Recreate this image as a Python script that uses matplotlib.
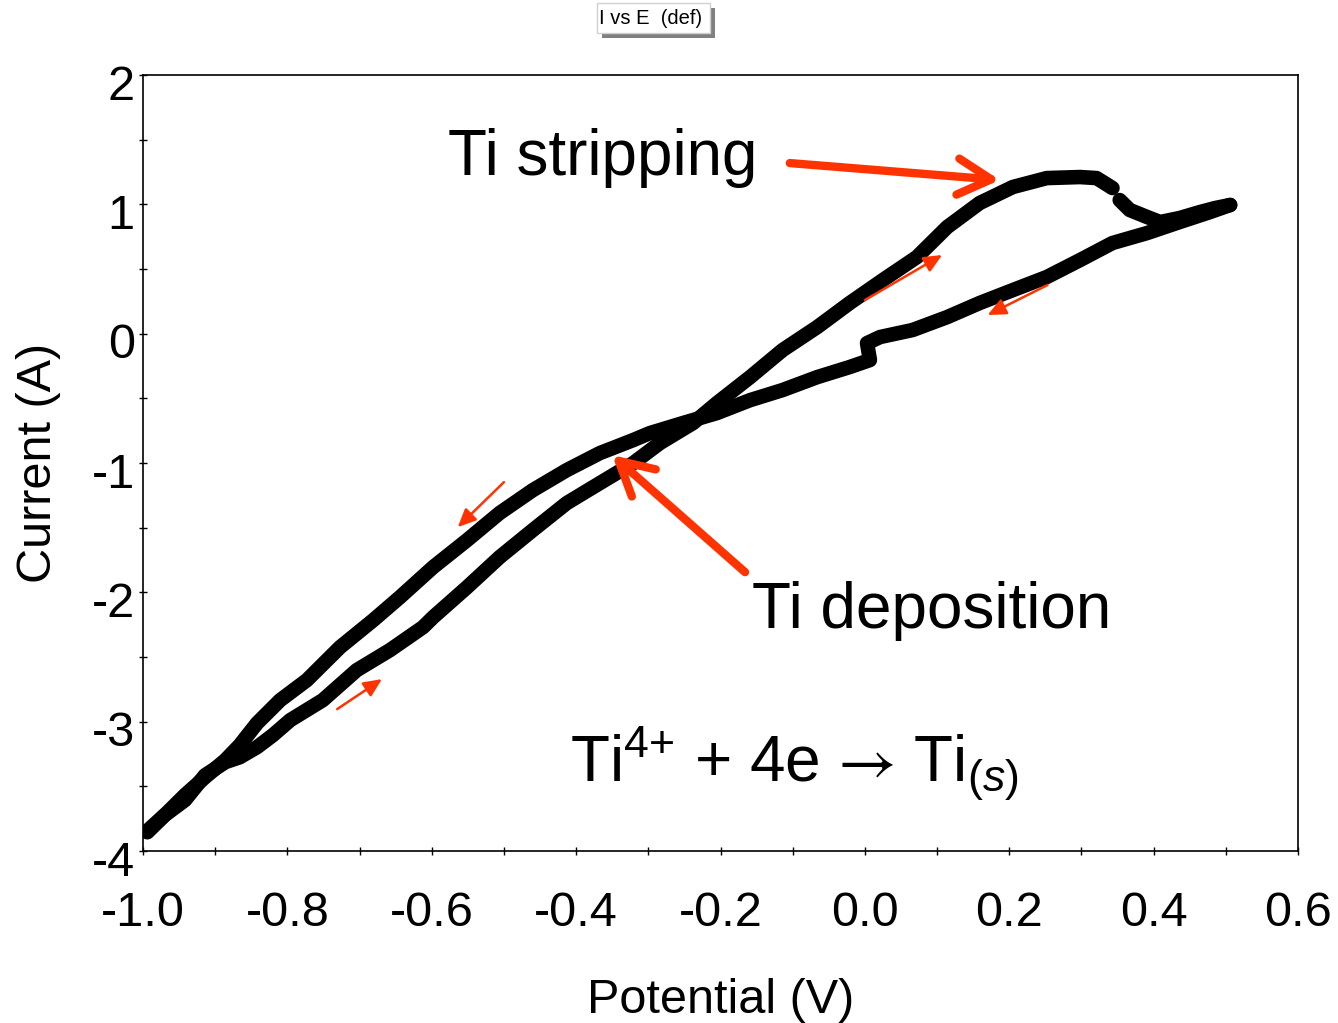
import matplotlib
matplotlib.use("Agg")
import matplotlib.pyplot as plt
from matplotlib.patches import Rectangle
from matplotlib.transforms import ScaledTranslation

plt.rcParams['font.family'] = ['Liberation Sans', 'DejaVu Sans']
plt.rcParams['mathtext.fontset'] = 'custom'
plt.rcParams['mathtext.rm'] = 'Liberation Sans'
plt.rcParams['mathtext.it'] = 'Liberation Sans:italic'
plt.rcParams['mathtext.sf'] = 'STIXGeneral'
plt.rcParams['mathtext.default'] = 'regular'
plt.rcParams['mathtext.fallback'] = 'stix'

# Forward scan (-1.0 V -> 0.5 V)
fwd_E = [-0.994, -0.970, -0.942, -0.914, -0.886, -0.866, -0.842, -0.820, -0.796, -0.751,
         -0.704, -0.658, -0.612, -0.598, -0.551, -0.506, -0.460, -0.413, -0.367, -0.321,
         -0.284, -0.238, -0.205, -0.159, -0.114, -0.066, -0.021, 0.025, 0.072, 0.114,
         0.159, 0.205, 0.252, 0.298, 0.321, 0.343]
fwd_I = [-3.855, -3.723, -3.607, -3.414, -3.313, -3.275, -3.197, -3.104, -2.988, -2.834,
         -2.602, -2.447, -2.269, -2.192, -1.960, -1.728, -1.519, -1.310, -1.155, -1.001,
         -0.846, -0.691, -0.537, -0.336, -0.127, 0.051, 0.237, 0.415, 0.592, 0.824,
         1.010, 1.134, 1.203, 1.211, 1.203, 1.126]
# Continuation of forward scan after the small gap
fwd2_E = [0.353, 0.367, 0.391, 0.409, 0.436, 0.464, 0.485, 0.506]
fwd2_I = [1.033, 0.956, 0.902, 0.863, 0.894, 0.940, 0.971, 0.995]
# Reverse scan (0.5 V -> -1.0 V)
rev_E = [0.506, 0.478, 0.436, 0.391, 0.343, 0.298, 0.252, 0.205, 0.159, 0.114,
         0.066, 0.021, 0.003, 0.007, -0.021, -0.066, -0.114, -0.159, -0.205, -0.252,
         -0.298, -0.321, -0.367, -0.413, -0.460, -0.506, -0.551, -0.598, -0.644, -0.681,
         -0.727, -0.773, -0.810, -0.842, -0.866, -0.886, -0.914, -0.942, -0.970, -0.993]
rev_I = [0.995, 0.940, 0.863, 0.778, 0.701, 0.569, 0.438, 0.337, 0.237, 0.128,
         0.028, -0.026, -0.073, -0.204, -0.258, -0.336, -0.436, -0.514, -0.614, -0.691,
         -0.769, -0.823, -0.923, -1.055, -1.210, -1.387, -1.596, -1.805, -2.037, -2.215,
         -2.424, -2.679, -2.834, -3.012, -3.182, -3.298, -3.429, -3.568, -3.723, -3.839]

x_ticks = [-1.0, -0.8, -0.6, -0.4, -0.2, 0.0, 0.2, 0.4, 0.6]
x_labels = ['-1.0', '-0.8', '-0.6', '-0.4', '-0.2', '0.0', '0.2', '0.4', '0.6']
y_ticks = [-4, -3, -2, -1, 0, 1, 2]
y_labels = ['-4', '-3', '-2', '-1', '0', '1', '2']

RED = '#FF3300'
LW = 10.5

fig = plt.figure(figsize=(13.38, 10.23), dpi=100)
ax = fig.add_axes([143/1338, 1-851/1023, (1298-143)/1338, (851-75)/1023])

for E, I in [(fwd_E, fwd_I), (fwd2_E, fwd2_I), (rev_E, rev_I)]:
    ax.plot(E, I, color='black', lw=LW, solid_joinstyle='round', solid_capstyle='round')

ax.set_xlim(-1.0, 0.6)
ax.set_ylim(-4, 2)
ax.set_xticks(x_ticks)
ax.set_xticklabels(x_labels)
ax.set_yticks(y_ticks)
ax.set_yticklabels(y_labels)
ax.set_xticks([v/10 for v in range(-9, 6, 2)], minor=True)
ax.set_yticks([-3.5, -2.5, -1.5, -0.5, 0.5, 1.5], minor=True)
ax.tick_params(axis='both', which='both', direction='inout', length=6, width=1, color='black')
ax.tick_params(axis='x', which='major', labelsize=35, pad=26)
ax.tick_params(axis='y', which='major', labelsize=35, pad=3)
for sp in ax.spines.values():
    sp.set_linewidth(1.2)

off = ScaledTranslation(0, -7/100, fig.dpi_scale_trans)
for lab in ax.get_yticklabels():
    lab.set_transform(lab.get_transform() + off)

ax.set_xlabel('Potential (V)', fontsize=35, labelpad=30)
ax.set_ylabel('Current (A)', fontsize=35, labelpad=22)

# Big annotations
ax.annotate('', xy=(0.187, 1.188), xytext=(-0.104, 1.319),
            arrowprops=dict(arrowstyle='->,head_length=2.4,head_width=1.3', lw=6, color=RED,
                            shrinkA=0, shrinkB=0, capstyle='round', joinstyle='round'))
ax.text(-0.578, 1.227, 'Ti stripping', fontsize=46, ha='left', va='baseline')

ax.annotate('', xy=(-0.350, -0.939), xytext=(-0.166, -1.844),
            arrowprops=dict(arrowstyle='->,head_length=2.4,head_width=1.3', lw=6, color=RED,
                            shrinkA=0, shrinkB=0, capstyle='round', joinstyle='round'))
ax.text(-0.157, -2.277, 'Ti deposition', fontsize=46, ha='left', va='baseline')

ax.text(-0.409, -3.468,
        r'Ti$^{4{+}}$ + 4e$\hspace{0.12}\mathsf{\rightarrow}\hspace{0.12}$Ti$_{(\mathit{s})}$',
        fontsize=46, ha='left', va='baseline')

# Small scan-direction arrows
small = [((0.0, 0.260), (0.107, 0.608)),
         ((0.253, 0.376), (0.170, 0.144)),
         ((-0.500, -1.148), (-0.564, -1.496)),
         ((-0.731, -2.903), (-0.669, -2.671))]
for tail, head in small:
    ax.annotate('', xy=head, xytext=tail,
                arrowprops=dict(arrowstyle='-|>,head_length=1.1,head_width=0.5', lw=1.8,
                                color=RED, shrinkA=0, shrinkB=0, mutation_scale=10))

# Title box "I vs E (def)" with shadow
fig.patches.append(Rectangle((602/1338, 1-38/1023), 113/1338, 30/1023, transform=fig.transFigure,
                             facecolor='#808080', edgecolor='none', zorder=1))
fig.patches.append(Rectangle((597/1338, 1-33/1023), 113/1338, 30/1023, transform=fig.transFigure,
                             facecolor='white', edgecolor='#d0d0d0', lw=1, zorder=2))
fig.text(651/1338, 1-19/1023, 'I vs E  (def)', fontsize=14.5, ha='center', va='center', zorder=3)

fig.savefig('out.png', dpi=100)
